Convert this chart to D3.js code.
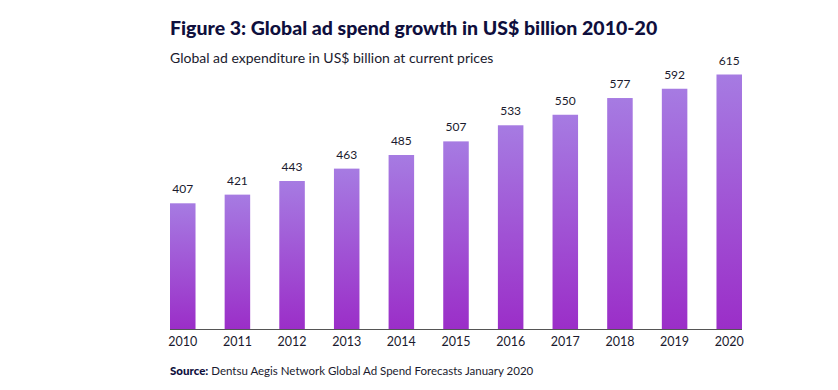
<!DOCTYPE html>
<html><head><meta charset="utf-8">
<script src="https://cdn.jsdelivr.net/npm/d3@7"></script>
<style>
body{margin:0;background:#fff;}
svg{display:block;font-family:"Lato","Noto Sans",sans-serif;}
</style></head>
<body><svg id="c" width="838" height="390"></svg>
<script>
const years = ["2010","2011","2012","2013","2014","2015","2016","2017","2018","2019","2020"];
const values = [407,421,443,463,485,507,533,550,577,592,615];
const title = "Figure 3: Global ad spend growth in US$ billion 2010-20";
const subtitle = "Global ad expenditure in US$ billion at current prices";
const sourceLabel = "Source:";
const sourceText = " Dentsu Aegis Network Global Ad Spend Forecasts January 2020";

const svg = d3.select("#c");
const defs = svg.append("defs");
const g = defs.append("linearGradient").attr("id","bg").attr("x1",0).attr("y1",0).attr("x2",0).attr("y2",1);
g.append("stop").attr("offset","0%").attr("stop-color","#a67be2");
g.append("stop").attr("offset","100%").attr("stop-color","#9b2ec8");

const x = d3.scaleBand().domain(years).range([170,742]).paddingInner(0.533).paddingOuter(0);
const y = d3.scaleLinear().domain([204,615]).range([329,74.5]);

svg.append("text").attr("x",170).attr("y",35).attr("font-size",19.5).attr("font-weight",900)
  .attr("fill","#0f0f3d").text(title);
svg.append("text").attr("x",170).attr("y",63).attr("font-size",14).attr("fill","#1a1a2e").text(subtitle);

svg.selectAll("rect.bar").data(values).join("rect").attr("class","bar")
  .attr("x",(d,i)=>x(years[i])).attr("width",x.bandwidth())
  .attr("y",d=>y(d)).attr("height",d=>y.range()[0]-y(d)).attr("fill","url(#bg)");

svg.selectAll("text.val").data(values).join("text").attr("class","val")
  .attr("x",(d,i)=>x(years[i])+x.bandwidth()/2).attr("y",d=>y(d)-10)
  .attr("text-anchor","middle").attr("font-size",12).attr("fill","#1a1a2e").text(d=>d);

const axis = d3.axisBottom(x).tickSize(0).tickPadding(8);
const ax = svg.append("g").attr("transform","translate(0,329.5)").call(axis);
ax.select(".domain").attr("stroke","#555").attr("d",`M${x(years[0])},0H${x(years[years.length-1])+x.bandwidth()}`);
ax.selectAll("text").attr("font-size",12.5).attr("fill","#1a1a2e").attr("font-family","Lato, 'Noto Sans', sans-serif");

const s = svg.append("text").attr("x",170).attr("y",375).attr("font-size",11.5).attr("fill","#1a1a2e");
s.append("tspan").attr("font-weight",900).attr("fill","#0f0f3d").text(sourceLabel);
s.append("tspan").text(sourceText);
</script></body></html>
